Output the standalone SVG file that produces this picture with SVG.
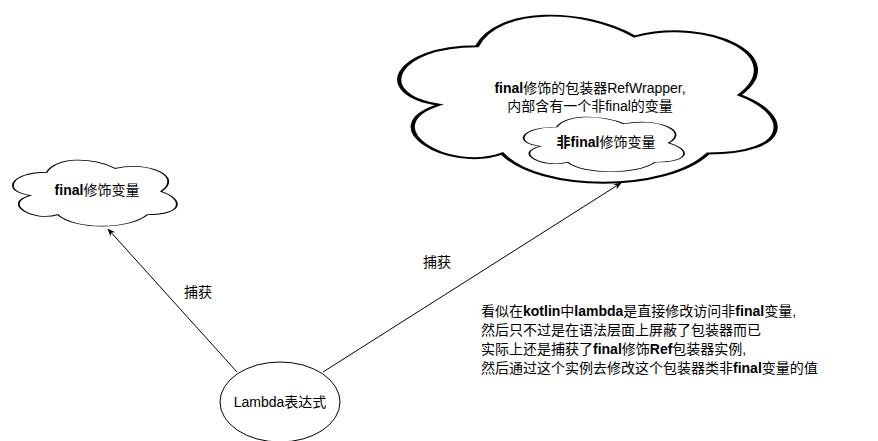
<svg xmlns="http://www.w3.org/2000/svg" width="878" height="441" viewBox="0 0 878 441">
<style>
.c{fill:#fff;stroke:#000;stroke-width:1;vector-effect:non-scaling-stroke}
text{font-family:"Liberation Sans","Noto Sans CJK SC",sans-serif;font-size:14px;fill:#000}
.m{text-anchor:middle}
.b{font-weight:bold}
.e{stroke:#000;stroke-width:1;fill:none}
</style>
<defs>
<path id="cloud" d="M25,25 C5,25 0,50 16,55 C0,66 18,90 31,80 C40,100 70,100 80,80 C100,80 100,60 87.5,50 C100,30 80,10 62.5,20 C50,5 30,5 25,25 Z"/>
<marker id="a" viewBox="0 0 10 10" refX="9" refY="5" markerWidth="8" markerHeight="8" orient="auto"><path d="M0,1 L10,5 L0,9 L3,5 Z" fill="#000"/></marker>
</defs>
<rect width="878" height="441" fill="#fff"/>
<g id="connectors">
<line class="e" x1="237" y1="372" x2="108" y2="229" marker-end="url(#a)"/>
<text x="198" y="297" class="m">捕获</text>
<line class="e" x1="323" y1="372" x2="621" y2="183" marker-end="url(#a)"/>
<text x="437" y="267" class="m">捕获</text>
</g>
<g id="final-var">
<use href="#cloud" class="c" transform="translate(1,153) scale(1.83,0.77)"/>
<text x="97" y="195" class="m"><tspan class="b">final</tspan>修饰变量</text>
</g>
<g id="wrapper">
<use href="#cloud" class="c" transform="translate(372,-2.5) scale(4.2,1.95)"/>
<text x="590" y="93" class="m"><tspan class="b">final</tspan>修饰的包装器RefWrapper,</text>
<text x="590" y="111" class="m">内部含有一个非final的变量</text>
</g>
<g id="nonfinal-var">
<use href="#cloud" class="c" transform="translate(512,111) scale(1.79,0.64)"/>
<text x="606" y="147" class="m" font-weight="bold">非final<tspan font-weight="normal">修饰变量</tspan></text>
</g>
<g id="lambda">
<ellipse class="c" cx="280" cy="402" rx="60" ry="40"/>
<text x="280" y="407" class="m">Lambda表达式</text>
</g>
<g id="note">
<text x="481" y="316">看似在<tspan class="b">kotlin</tspan>中<tspan class="b">lambda</tspan>是直接修改访问非<tspan class="b">final</tspan>变量,</text>
<text x="481" y="335">然后只不过是在语法层面上屏蔽了包装器而已</text>
<text x="481" y="354">实际上还是捕获了<tspan class="b">final</tspan>修饰<tspan class="b">Ref</tspan>包装器实例,</text>
<text x="481" y="373">然后通过这个实例去修改这个包装器类非<tspan class="b">final</tspan>变量的值</text>
</g>
</svg>
